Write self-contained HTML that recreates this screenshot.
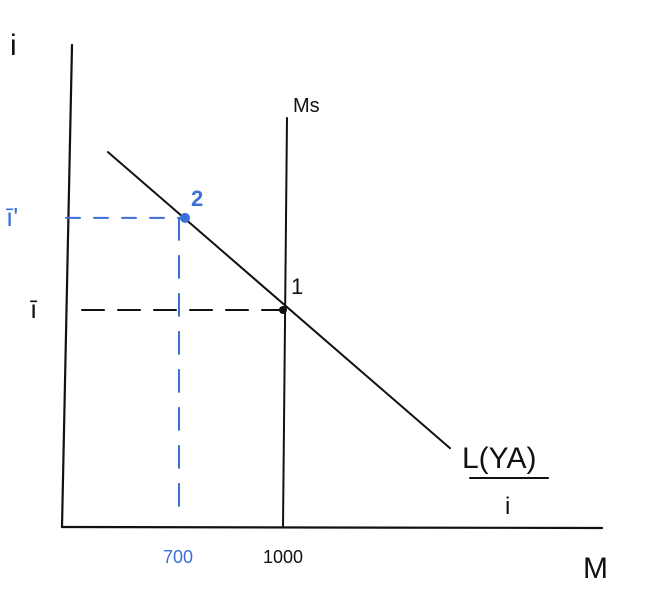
<!DOCTYPE html>
<html><head><meta charset="utf-8"><style>
body{margin:0;background:#fff;width:650px;height:606px;overflow:hidden}
text{font-family:"Liberation Sans",sans-serif}
</style></head><body>
<svg id="chart" width="650" height="606" viewBox="0 0 650 606">
<g id="g" fill="none" stroke-linecap="round"></g>
</svg>
<script>
const tickValues=[700,1000];
const tickLabels=["700","1000"];
const rateLevels=[4,5.96];           // i-bar (point 1), i-bar' (point 2)
const pointMoney=[1000,720];
const pointNames=["1","2"];
const demandM=[500,1477];
const demandRate=[7.36,1.06];
const moneySupply=1000;
function x(v){return 283+(v-1000)*0.35;}
function y(r){return 310-(r-4)*47;}
const g=document.getElementById('g');
const NS='http://www.w3.org/2000/svg';
function el(t,a,p){const e=document.createElementNS(NS,t);for(const k in a)e.setAttribute(k,a[k]);(p||g).appendChild(e);return e;}
let e=el('line',{x1:72,y1:45,x2:62,y2:527,stroke:'#111','stroke-width':2.2});

e=el('line',{x1:62,y1:527,x2:602,y2:528,stroke:'#111','stroke-width':2.2});

e=el('text',{x:10,y:55,'font-size':30,fill:'#111'});e.textContent='i';

e=el('text',{x:583,y:578,'font-size':30,fill:'#111'});e.textContent='M';

e=el('line',{x1:x(moneySupply)+4,y1:118,x2:x(moneySupply),y2:527,stroke:'#111','stroke-width':2});

e=el('text',{x:293,y:112,'font-size':20,fill:'#111'});e.textContent='Ms';

e=el('line',{x1:x(demandM[0]),y1:y(demandRate[0]),x2:x(demandM[1]),y2:y(demandRate[1]),stroke:'#111','stroke-width':2});

e=el('text',{x:462,y:468,'font-size':30,fill:'#111'});e.textContent='L(YA)';

e=el('line',{x1:470,y1:478,x2:548,y2:478,stroke:'#111','stroke-width':2});

e=el('text',{x:505,y:514,'font-size':24,fill:'#111'});e.textContent='i';

const cols=['#111','#3a70d8'];
for(let k=0;k<2;k++){
 const px=x(pointMoney[k]),py=y(rateLevels[k]);
 e=el('line',{x1:k?66:82,y1:py,x2:px,y2:py,stroke:cols[k],'stroke-width':2,'stroke-dasharray':k?'14,14':'22,14'});
 
 if(k){e=el('line',{x1:px-6,y1:py,x2:px-6,y2:515,stroke:cols[k],'stroke-width':2,'stroke-dasharray':'22,16'});
  }
 e=el('circle',{cx:px,cy:py,r:k?5:4,fill:cols[k]});
 
 e=el('text',{x:px+(k?6:8),y:py-(k?12:16),'font-size':22,fill:cols[k],'font-weight':k?'bold':'normal'});e.textContent=pointNames[k];
 
 e=el('text',{x:k?6:30,y:py+8,'font-size':26,fill:cols[k]});e.textContent=k?"ī'":'ī';
 
}
for(let k=0;k<tickValues.length;k++){
 e=el('text',{x:x(tickValues[k]),y:563,'font-size':18,'text-anchor':'middle',fill:k?'#111':'#3a70d8'});
 e.textContent=tickLabels[k];
 
}
</script>
</body></html>
